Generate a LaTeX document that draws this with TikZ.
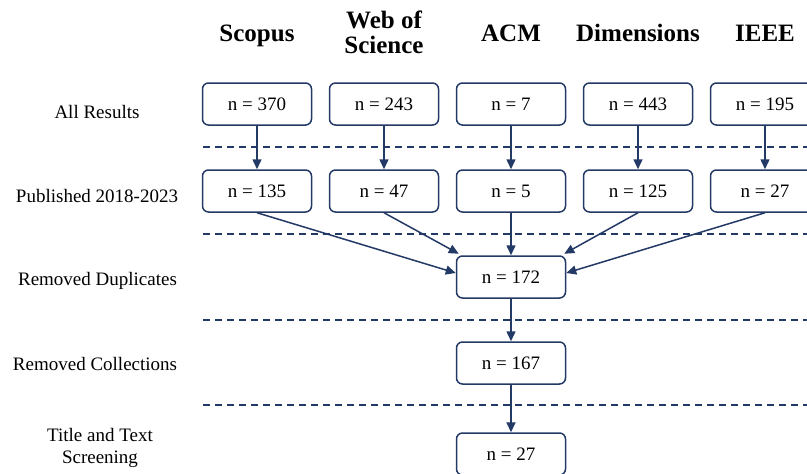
\documentclass[tikz,border=0pt]{standalone}
\usepackage{fontspec}
\setmainfont{Liberation Serif}
\usetikzlibrary{arrows.meta}
\definecolor{navy}{RGB}{36,58,102}
\begin{document}
\begin{tikzpicture}[x=1pt,y=-1pt,
  box/.style={draw=navy, line width=1.5pt, rounded corners=6pt, minimum width=109pt, minimum height=42pt, inner sep=0pt, font=\fontsize{19}{19}\selectfont, anchor=center},
  lbl/.style={font=\fontsize{19}{22}\selectfont, anchor=base, inner sep=0pt},
  hdr/.style={font=\fontsize{25}{25}\selectfont\bfseries, anchor=base, inner sep=0pt},
  arr/.style={draw=navy, line width=1.5pt, -{Triangle[length=10pt,width=9pt]}},
  sep/.style={draw=navy, line width=1.5pt, dash pattern=on 7pt off 5pt}]
\path[use as bounding box] (0,0) rectangle (807,474);
\clip (0,0) rectangle (807,474);
\fill[white] (0,0) rectangle (807,474);

% headers
\node[hdr] (hS) at (257,41) {Scopus};
\node[hdr] (hW1) at (384,28) {Web of};
\node[hdr] (hW2) at (384,53) {Science};
\node[hdr] (hA) at (511,41) {ACM};
\node[hdr] (hD) at (638,41) {Dimensions};
\node[hdr] (hI) at (765,41) {IEEE};

% row labels
\node[lbl] (l1) at (97,118) {All Results};
\node[lbl] (l2) at (97,202) {Published 2018-2023};
\node[lbl] (l3) at (97.5,285) {Removed Duplicates};
\node[lbl] (l4) at (95,370) {Removed Collections};
\node[lbl] (l5a) at (100,441) {Title and Text};
\node[lbl] (l5b) at (100,463) {Screening};

% separators
\foreach \yy in {147,234,320,405} \draw[sep] (203,\yy) -- (807,\yy);

% row 1
\node[box] (a1) at (257,104) {n = 370};
\node[box] (a2) at (384,104) {n = 243};
\node[box] (a3) at (511,104) {n = 7};
\node[box] (a4) at (638,104) {n = 443};
\node[box] (a5) at (765,104) {n = 195};
% row 2
\node[box] (b1) at (257,191) {n = 135};
\node[box] (b2) at (384,191) {n = 47};
\node[box] (b3) at (511,191) {n = 5};
\node[box] (b4) at (638,191) {n = 125};
\node[box] (b5) at (765,191) {n = 27};
% rows 3-5
\node[box] (d) at (511,277) {n = 172};
\node[box] (c) at (511,363) {n = 167};
\node[box] (t) at (511,454) {n = 27};

% arrows
\foreach \i in {1,...,5} \draw[arr] (a\i.south) -- (b\i.north);
\draw[arr] (b1.south) -- ([yshift=4pt]d.west);
\draw[arr] (b2.south) -- ([shift={(3pt,1.5pt)}]d.north west);
\draw[arr] (b3.south) -- (d.north);
\draw[arr] (b4.south) -- ([shift={(-2pt,1.5pt)}]d.north east);
\draw[arr] (b5.south) -- ([yshift=4pt]d.east);
\draw[arr] (d.south) -- (c.north);
\draw[arr, line width=1.9pt] (c.south) -- (t.north);
\end{tikzpicture}
\end{document}
